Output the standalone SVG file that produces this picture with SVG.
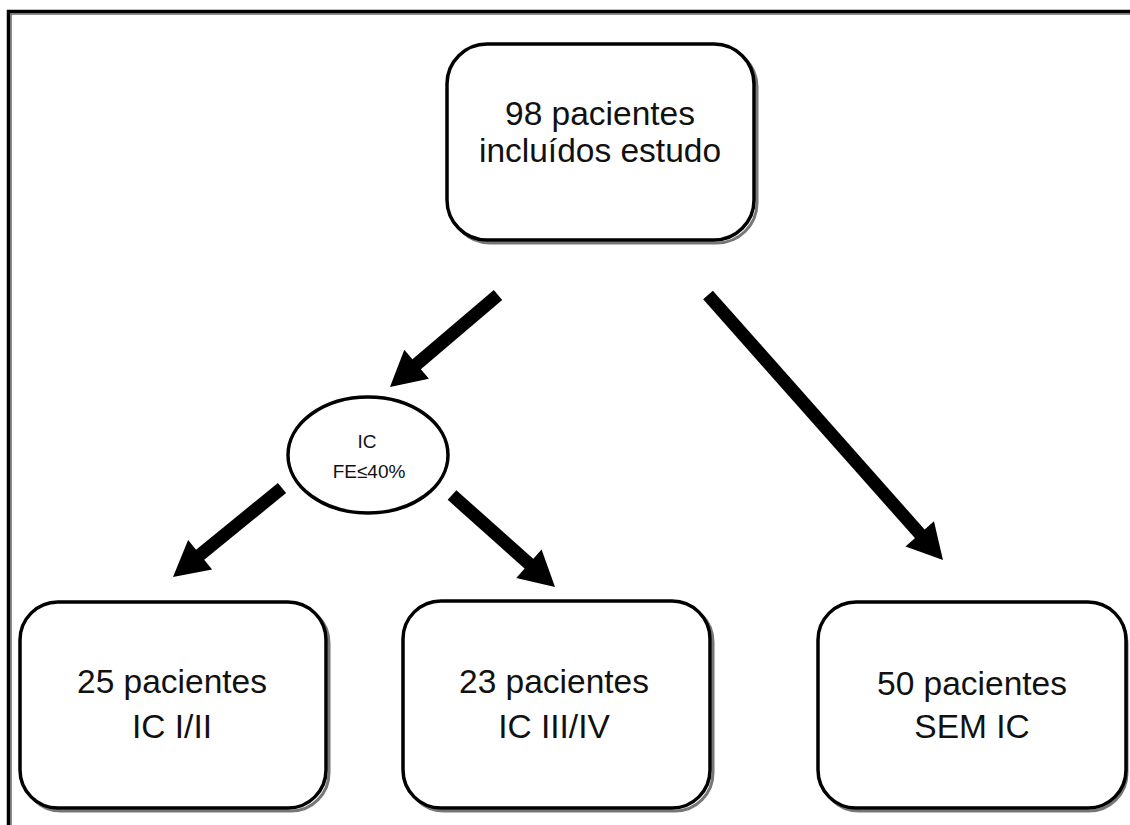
<svg xmlns="http://www.w3.org/2000/svg" width="1130" height="825" viewBox="0 0 1130 825">
<style>
.box{fill:#fff;stroke:#000;stroke-width:3.5}
.sh{fill:none;stroke:#777;stroke-width:3}
.t{font-family:"Liberation Sans",Arial,sans-serif;font-size:33.5px;fill:#111;text-anchor:middle}
.s{font-family:"Liberation Sans",Arial,sans-serif;font-size:19px;fill:#111;text-anchor:middle}
.arr{stroke:#000;stroke-width:13;fill:none;marker-end:url(#ah)}
</style>
<defs>
<marker id="ah" markerUnits="userSpaceOnUse" markerWidth="40" markerHeight="44" refX="15" refY="0" viewBox="0 -22 40 44" orient="auto" overflow="visible">
<path d="M0,-19 L35,0 L0,19 Z" fill="#000"/>
</marker>
</defs>
<rect width="1130" height="825" fill="#fff"/>
<g id="frame">
<path d="M8.5,825 V11.5 H1130" fill="none" stroke="#000" stroke-width="3.5"/>
<path d="M11,825 V14 H1130" fill="none" stroke="#666" stroke-width="1.5"/>
</g>
<g id="connectors">
<line class="arr" x1="498" y1="295" x2="405.2" y2="374"/>
<line class="arr" x1="282" y1="488" x2="188.5" y2="564.3"/>
<line class="arr" x1="452" y1="495" x2="540.1" y2="573.7"/>
<line class="arr" x1="708" y1="295" x2="929.7" y2="545"/>
</g>
<g id="n-top">
<rect class="sh" x="450" y="47" width="307" height="196" rx="40"/>
<rect class="box" x="447" y="44" width="307" height="196" rx="40"/>
<text class="t" x="600" y="125">98 pacientes</text>
<text class="t" x="600" y="162">incluídos estudo</text>
</g>
<g id="n-ic">
<ellipse cx="368" cy="455" rx="80" ry="58" fill="#fff" stroke="#000" stroke-width="3.5"/>
<text class="s" x="367" y="448">IC</text>
<text class="s" x="369" y="478">FE≤40%</text>
</g>
<g id="n-1">
<rect class="sh" x="23" y="605" width="306" height="206" rx="38"/>
<rect class="box" x="20" y="602" width="306" height="206" rx="38"/>
<text class="t" x="172" y="693">25 pacientes</text>
<text class="t" x="172" y="738">IC I/II</text>
</g>
<g id="n-2">
<rect class="sh" x="406" y="604" width="307" height="207" rx="38"/>
<rect class="box" x="403" y="601" width="307" height="207" rx="38"/>
<text class="t" x="554" y="693">23 pacientes</text>
<text class="t" x="554" y="738">IC III/IV</text>
</g>
<g id="n-3">
<rect class="sh" x="821" y="605" width="306" height="206" rx="38"/>
<rect class="box" x="818" y="602" width="308" height="206" rx="38"/>
<text class="t" x="972" y="695">50 pacientes</text>
<text class="t" x="972" y="738">SEM IC</text>
</g>
</svg>
